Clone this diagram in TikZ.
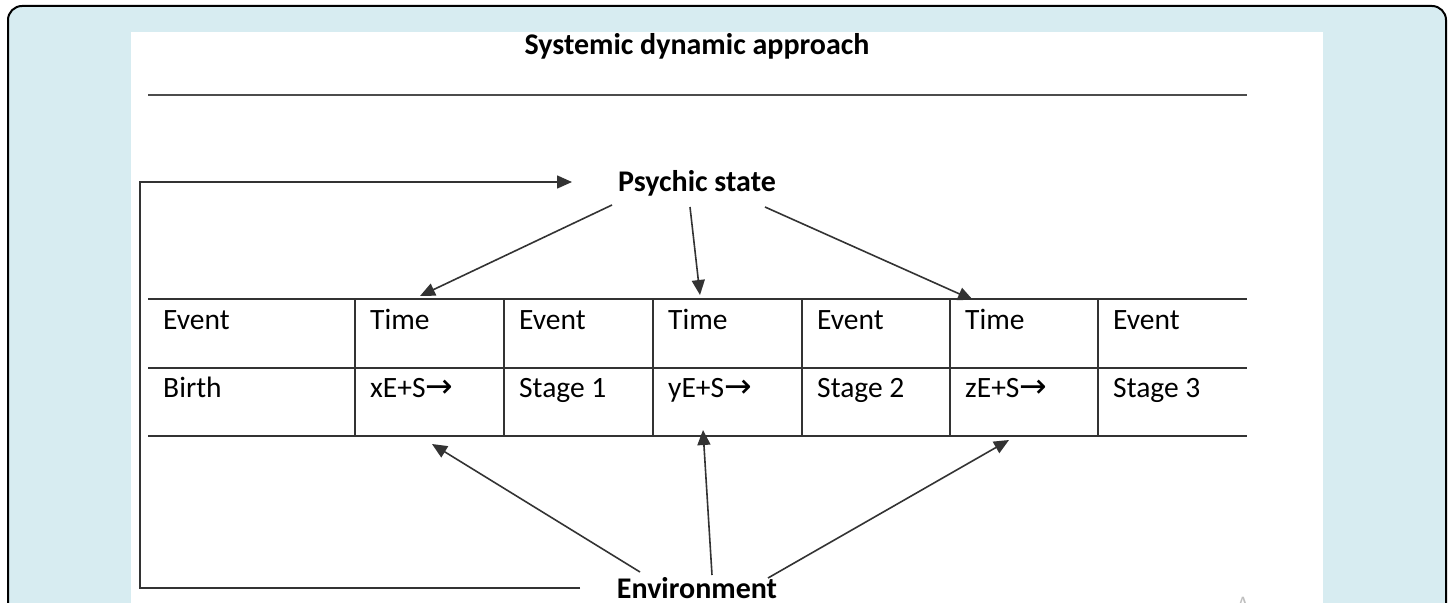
\documentclass[tikz,border=0pt]{standalone}
\usepackage{fontspec}
\setmainfont{Carlito}
\newfontfamily\arrowfont{DejaVu Sans}
\usetikzlibrary{arrows.meta}
\definecolor{bgblue}{HTML}{D7ECF1}
\definecolor{linegray}{HTML}{333333}
\tikzset{
  celltext/.style={anchor=base west, inner sep=0pt, font=\fontsize{29.5}{34}\selectfont, text=black},
  headtext/.style={anchor=base, inner sep=0pt, font=\fontsize{30}{36}\selectfont\bfseries, text=black},
  gridline/.style={draw=linegray, line width=1.8pt},
  rule/.style={draw=black!70, line width=2.4pt},
  arr/.style={draw=linegray, line width=1.6pt, -{Triangle[length=15pt,width=13pt]}},
}
\newcommand{\rarr}{{\arrowfont\fontsize{33}{34}\selectfont →}}
\begin{document}
\begin{tikzpicture}[x=1pt,y=-1pt]
\useasboundingbox (0,0) rectangle (1450,602);
\clip (0,0) rectangle (1450,602);
% frame and panel
\draw[fill=bgblue, line width=2pt, rounded corners=14pt] (8,6) rectangle (1446,660);
\fill[white] (131,32) rectangle (1323,660);

% title and rule
\node[headtext] (title) at (697,55) {Systemic dynamic approach};
\coordinate (rl) at (148,95);
\coordinate (rr) at (1247,95);
\draw[rule] (rl) -- (rr);

% table lines
\foreach \y [count=\i] in {299,368,436} {
  \coordinate (hl\i) at (148,\y);
  \coordinate (hr\i) at (1247,\y);
  \draw[gridline] (hl\i) -- (hr\i);
}
\foreach \x [count=\i] in {355,504,653,802,950,1098} {
  \coordinate (vt\i) at (\x,299);
  \coordinate (vb\i) at (\x,436);
  \draw[gridline] (vt\i) -- (vb\i);
}

% cells
\node[celltext] (a1) at (163,329) {Event};
\node[celltext] (a2) at (370,329) {Time};
\node[celltext] (a3) at (519,329) {Event};
\node[celltext] (a4) at (668,329) {Time};
\node[celltext] (a5) at (817,329) {Event};
\node[celltext] (a6) at (965,329) {Time};
\node[celltext] (a7) at (1113,329) {Event};
\node[celltext] (b1) at (163,397) {Birth};
\node[celltext] (b2) at (370,397) {xE+S\rarr};
\node[celltext] (b3) at (519,397) {Stage 1};
\node[celltext] (b4) at (668,397) {yE+S\rarr};
\node[celltext] (b5) at (817,397) {Stage 2};
\node[celltext] (b6) at (965,397) {zE+S\rarr};
\node[celltext] (b7) at (1113,397) {Stage 3};

% psychic state and environment
\node[headtext] (ps) at (697,191) {Psychic state};
\node[headtext] (env) at (697,598) {Environment};

% arrow endpoints
\coordinate (ps1) at (612,205);
\coordinate (ps2) at (690,207);
\coordinate (ps3) at (765,207);
\coordinate (t1) at (420,296);
\coordinate (t2) at (700,295);
\coordinate (t3) at (973,300);
\coordinate (en1) at (640,572);
\coordinate (en2) at (712,575);
\coordinate (en3) at (768,578);
\coordinate (u1) at (432,444);
\coordinate (u2) at (703,430);
\coordinate (u3) at (1009,440);

\draw[arr] (ps1) -- (t1);
\draw[arr] (ps2) -- (t2);
\draw[arr] (ps3) -- (t3);
\draw[arr] (en1) -- (u1);
\draw[arr] (en2) -- (u2);
\draw[arr] (en3) -- (u3);

% feedback loop
\coordinate (fb0) at (580,588);
\coordinate (fb1) at (140,588);
\coordinate (fb2) at (140,182);
\coordinate (fb3) at (572,182);
\draw[arr] (fb0) -- (fb1) -- (fb2) -- (fb3);

% watermark
\node[inner sep=0pt, anchor=base, text=black!25, font=\sffamily\fontsize{22}{24}\selectfont] (wm) at (1243,612) {A};
\end{tikzpicture}
\end{document}
